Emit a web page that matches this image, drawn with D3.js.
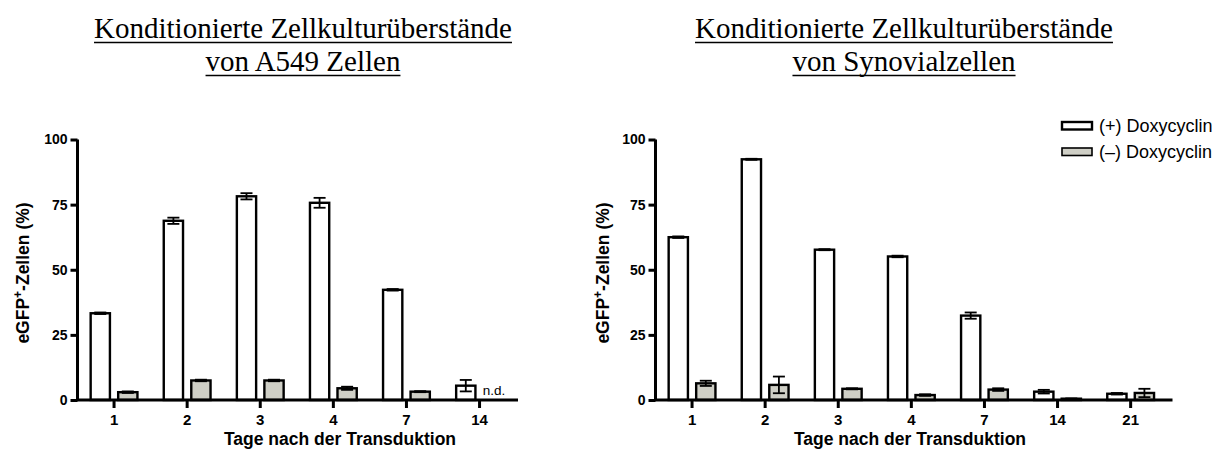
<!DOCTYPE html>
<html>
<head>
<meta charset="utf-8">
<script src="https://cdn.jsdelivr.net/npm/d3@7"></script>
<style>
  html, body { margin: 0; padding: 0; background: #fff; }
  svg { display: block; }
</style>
</head>
<body>
<svg id="chart" width="1217" height="450"></svg>
<script>
(function () {
    "use strict";

    // ---- data ----
    var leftDays = ["1", "2", "3", "4", "7", "14"];
    var leftPlus = [33.3, 68.8, 78.2, 75.7, 42.3, 5.5];
    var leftPlusErr = [0.3, 1.2, 1.2, 1.9, 0.3, 2.2];
    var leftMinus = [3.0, 7.5, 7.5, 4.5, 3.2, null];
    var leftMinusErr = [0.3, 0.3, 0.3, 0.6, 0.2, null];

    var rightDays = ["1", "2", "3", "4", "7", "14", "21"];
    var rightPlus = [62.5, 92.4, 57.7, 55.1, 32.4, 3.2, 2.4];
    var rightPlusErr = [0.3, 0.2, 0.2, 0.3, 1.2, 0.7, 0.3];
    var rightMinus = [6.4, 5.8, 4.3, 1.9, 4.0, 0.5, 2.7];
    var rightMinusErr = [1.0, 3.2, 0.2, 0.3, 0.5, 0.1, 1.6];

    var seriesNames = ["(+) Doxycyclin", "(\u2013) Doxycyclin"];
    var yTicks = [0, 25, 50, 75, 100];
    var titlesLeft = ["Konditionierte Zellkultur\u00fcberst\u00e4nde", "von A549 Zellen"];
    var titlesRight = ["Konditionierte Zellkultur\u00fcberst\u00e4nde", "von Synovialzellen"];

    var fills = ["#ffffff", "#cfcfc6"];
    var sans = "'Liberation Sans', Arial, sans-serif";
    var serif = "'Liberation Serif', 'Times New Roman', serif";

    var svg = d3.select("#chart");

    var y = d3.scaleLinear().domain([0, 100]).range([400, 139.5]);

    function panel(opts) {
        var g = svg.append("g");
        var x0 = d3.scaleBand().domain(opts.days).range([opts.x, opts.x + opts.days.length * 73.1]);
        var x1 = d3.scaleBand().domain([0, 1])
            .range([x0.bandwidth() * 0.18, x0.bandwidth() * 0.82])
            .paddingInner(0.3);

        var rows = [];
        opts.days.forEach(function (d, i) {
            rows.push({ day: d, s: 0, v: opts.plus[i], e: opts.plusErr[i] });
            if (opts.minus[i] != null) {
                rows.push({ day: d, s: 1, v: opts.minus[i], e: opts.minusErr[i] });
            }
        });

        // bars
        g.append("g").selectAll("rect")
            .data(rows)
            .join("rect")
            .attr("x", function (d) { return x0(d.day) + x1(d.s); })
            .attr("y", function (d) { return y(d.v); })
            .attr("width", x1.bandwidth())
            .attr("height", function (d) { return y(0) - y(d.v); })
            .attr("fill", function (d) { return fills[d.s]; })
            .attr("stroke", "#000")
            .attr("stroke-width", 2.4);

        // error bars
        var eb = g.append("g").attr("stroke", "#000").attr("stroke-width", 1.8)
            .selectAll("g")
            .data(rows.filter(function (d) { return d.e > 0; }))
            .join("g")
            .attr("transform", function (d) {
                return "translate(" + (x0(d.day) + x1(d.s) + x1.bandwidth() / 2) + ",0)";
            });
        eb.append("line")
            .attr("y1", function (d) { return y(d.v - d.e); })
            .attr("y2", function (d) { return y(d.v + d.e); });
        eb.append("line").attr("x1", -6).attr("x2", 6)
            .attr("y1", function (d) { return y(d.v + d.e); })
            .attr("y2", function (d) { return y(d.v + d.e); });
        eb.append("line").attr("x1", -6).attr("x2", 6)
            .attr("y1", function (d) { return y(d.v - d.e); })
            .attr("y2", function (d) { return y(d.v - d.e); });

        // y axis
        var ya = g.append("g")
            .attr("transform", "translate(" + opts.x + ",0)")
            .call(d3.axisLeft(y).tickValues(yTicks).tickSize(7).tickPadding(3));
        ya.select(".domain").attr("stroke-width", 3).attr("d", "M0," + y(0) + "V" + y(100));
        ya.selectAll(".tick line").attr("stroke-width", 3);
        ya.selectAll(".tick text")
            .attr("font-family", sans).attr("font-weight", "bold")
            .attr("font-size", 14).attr("fill", "#000");

        // x axis
        var xa = g.append("g")
            .attr("transform", "translate(0," + y(0) + ")")
            .call(d3.axisBottom(x0).tickSize(8).tickPadding(6).tickSizeOuter(0));
        xa.select(".domain").attr("stroke-width", 3)
            .attr("d", "M" + (opts.x - 1.5) + ",0H" + opts.axisEnd);
        xa.selectAll(".tick line").attr("stroke-width", 3);
        xa.selectAll(".tick text")
            .attr("font-family", sans).attr("font-weight", "bold")
            .attr("font-size", 15).attr("fill", "#000");

        // axis titles
        g.append("text")
            .attr("transform", "translate(" + opts.yLabelX + "," + 273 + ") rotate(-90)")
            .attr("text-anchor", "middle")
            .attr("font-family", sans).attr("font-weight", "bold").attr("font-size", 17.5)
            .call(function (t) {
                t.append("tspan").text("eGFP");
                t.append("tspan").attr("dy", -7).attr("font-size", 12).text("+");
                t.append("tspan").attr("dy", 7).text("-Zellen (%)");
            });

        g.append("text")
            .attr("x", opts.xLabelX).attr("y", 445)
            .attr("text-anchor", "middle")
            .attr("font-family", sans).attr("font-weight", "bold").attr("font-size", 17.5)
            .text("Tage nach der Transduktion");

        // titles, underlined
        opts.title.forEach(function (line, i) {
            var base = 38 + i * 33;
            var t = g.append("text")
                .attr("x", opts.titleX).attr("y", base)
                .attr("text-anchor", "middle")
                .attr("font-family", serif).attr("font-size", 29)
                .text(line);
            var w = t.node().getComputedTextLength();
            g.append("line")
                .attr("x1", opts.titleX - w / 2).attr("x2", opts.titleX + w / 2)
                .attr("y1", base + 4.5).attr("y2", base + 4.5)
                .attr("stroke", "#000").attr("stroke-width", 1.6);
        });

        return { x0: x0, x1: x1, g: g };
    }

    var left = panel({
        days: leftDays, plus: leftPlus, plusErr: leftPlusErr,
        minus: leftMinus, minusErr: leftMinusErr,
        x: 77.5, axisEnd: 518, yLabelX: 29, xLabelX: 340,
        titleX: 303, title: titlesLeft
    });

    // day 14 without (-) value: not determined
    left.g.append("text")
        .attr("x", left.x0("14") + left.x1(1) - 1)
        .attr("y", y(0) - 5)
        .attr("font-family", sans).attr("font-size", 13.5)
        .text("n.d.");

    panel({
        days: rightDays, plus: rightPlus, plusErr: rightPlusErr,
        minus: rightMinus, minusErr: rightMinusErr,
        x: 655.5, axisEnd: 1172.5, yLabelX: 609, xLabelX: 910,
        titleX: 904, title: titlesRight
    });

    // legend
    var legend = svg.append("g").attr("transform", "translate(1062,122)");
    var item = legend.selectAll("g")
        .data(seriesNames)
        .join("g")
        .attr("transform", function (d, i) { return "translate(0," + i * 26 + ")"; });
    item.append("rect")
        .attr("width", 30).attr("height", 7.5)
        .attr("fill", function (d, i) { return fills[i]; })
        .attr("stroke", "#000").attr("stroke-width", function (d, i) { return i ? 1.6 : 2.4; });
    item.append("text")
        .attr("x", 37).attr("y", 4).attr("dy", "0.35em")
        .attr("font-family", sans).attr("font-size", 18)
        .text(function (d) { return d; });
})();
</script>
</body>
</html>
